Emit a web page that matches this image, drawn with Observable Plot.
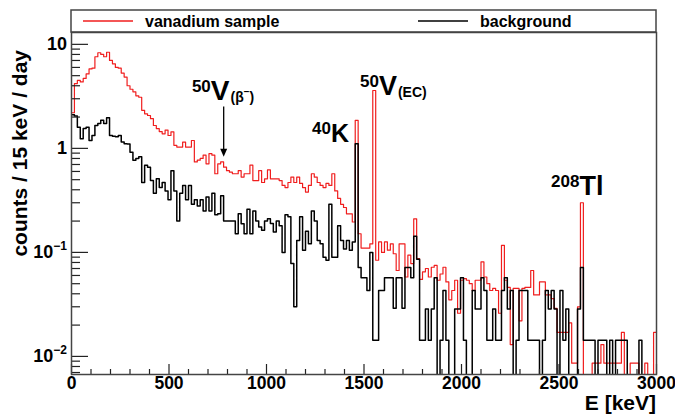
<!DOCTYPE html>
<html><head><meta charset="utf-8">
<script src="https://cdn.jsdelivr.net/npm/d3@7"></script>
<script src="https://cdn.jsdelivr.net/npm/@observablehq/plot@0.6"></script>
<style>
html,body{margin:0;padding:0;background:#fff;}
#chart{width:675px;height:417px;}
svg{font-family:"Liberation Sans",Arial,Helvetica,sans-serif;}
svg text{font-weight:bold;}
</style></head><body><div id="chart"></div>
<script>
// bin width in keV; bins start at 0
const binWidth = 15;
// counts / 15 keV / day, vanadium sample (0 = empty bin)
const vanadium = [
2.2,4.2,4.5,4.35,4.7,5.2,5.8,5.9,7.6,8.3, 8.0,7.6,8.4,7.0,6.5,6.0,5.9,5.3,4.85,4.0,
3.7,3.5,3.2,3.1,2.32,2.15,2.07,1.93,1.66,1.55, 1.45,1.38,1.5,1.33,1.44,1.07,1.03,1.03,1.15,1.03,
1.03,1.19,0.74,0.77,0.80,0.86,0.71,0.89,0.86,0.57, 0.71,0.74,0.66,0.61,0.59,0.57,0.57,0.61,0.53,0.57,
0.57,0.69,0.49,0.49,0.61,0.47,0.51,0.62,0.51,0.51, 0.51,0.49,0.44,0.42,0.47,0.53,0.47,0.53,0.46,0.42,
0.38,0.44,0.57,0.53,0.47,0.44,0.42,0.46,0.44,0.57, 0.39,0.33,0.29,0.27,0.235,0.235,0.196,1.86,0.151,0.11,
0.11,0.11,0.121,3.6,0.084,0.126,0.10,0.126,0.105,0.121, 0.097,0.067,0.121,0.121,0.058,0.094,0.078,0.21,0.087,0.055,
0.065,0.07,0.058,0.072,0.075,0.054,0.062,0.072,0.052,0.035, 0.043,0.054,0.026,0.054,0.056,0.054,0.05,0.043,0.054,0.054,
0.081,0.058,0.05,0.043,0.045,0.043,0.026,0.117,0.054,0.046, 0.013,0.045,0.045,0.022,0.045,0.046,0.046,0.067,0.039,0.039,
0.052,0.052,0.039,0.039,0.036,0.029,0.017,0.017,0.017,0.017, 0.021,0.0086,0.0086,0.03,0.30,0,0,0,0.0086,0.0086,
0.0086,0.013,0.0086,0.0086,0.0086,0.0086,0.0086,0.0086,0.017,0, 0,0.0086,0.0086,0.0086,0,0,0.0086,0,0,0.017
];
// counts / 15 keV / day, background
const background = [
2.1,2.05,1.6,1.24,1.55,1.6,1.19,1.33,1.66,1.73, 1.86,1.73,1.97,1.33,1.31,1.29,1.33,1.15,1.11,1.1,
0.92,0.77,0.80,0.83,0.47,0.69,0.66,0.49,0.37,0.51, 0.42,0.47,0.39,0.32,0.61,0.39,0.20,0.37,0.44,0.32,
0.44,0.29,0.32,0.28,0.32,0.25,0.34,0.25,0.37,0.23, 0.235,0.35,0.20,0.20,0.20,0.20,0.151,0.235,0.189,0.151,
0.26,0.151,0.25,0.20,0.175,0.163,0.20,0.21,0.19,0.157, 0.20,0.18,0.10,0.23,0.22,0.078,0.030,0.13,0.22,0.105,
0.16,0.121,0.25,0.20,0.13,0.121,0.09,0.084,0.29,0.09, 0.09,0.18,0.13,0.108,0.13,0.105,0.126,1.11,0.0715,0.057,
0.057,0.043,0.1,0.0143,0.0143,0.043,0.043,0.057,0.057,0.057, 0.029,0.057,0.057,0.029,0.0715,0.0715,0.057,0.143,0.086,0.0143,
0.0143,0.0286,0.0143,0.0286,0.057,0,0.0143,0.043,0.0143,0, 0,0.0286,0.0286,0.057,0.0143,0,0,0.043,0.0286,0.0286,
0.057,0.043,0.0143,0.0143,0.0286,0.0143,0.0143,0.043,0.057,0.0286, 0.043,0,0.0143,0.043,0.043,0.043,0.0143,0.0143,0.0143,0.0143,
0,0.0143,0.043,0.0286,0.043,0.0286,0,0.043,0.0143,0.0286, 0,0,0,0.0286,0.0715,0.0143,0.0143,0.0143,0.0143,0,
0.0143,0.0143,0.0143,0,0.0143,0,0.0143,0.0143,0.0143,0.0143, 0,0,0,0,0.0143,0,0,0,0,0
];
const seriesNames = ["vanadium sample", "background"];
const xMajorTicks = [0, 500, 1000, 1500, 2000, 2500, 3000];
const yMajorTicks = [0.01, 0.1, 1, 10];
const yTickBase = ["10", "10", "1", "10"];
const yTickExp = ["\u22122", "\u22121", "", ""];
const xTitle = "E [keV]";
const yTitle = "counts / 15 keV / day";
// peak labels: mass number, symbol, suffix, anchor energy (keV), anchor value
const peakMass = ["50", "40", "50", "208"];
const peakSymbol = ["V", "K", "V", "Tl"];
const peakSuffix = ["(\u03B2", "", "(EC)", ""];
const peakEnergy = [620, 1236, 1482, 2462];
const peakValue = [2.9, 1.14, 3.23, 0.353];
// arrow for 50V beta- line
const arrowEnergy = 783;
const arrowFrom = 2.5, arrowTo = 0.82;

const W = 675, H = 417;
const mL = 71, mR = 19, mT = 32, mB = 43;
const plotW = W - mL - mR, plotH = H - mT - mB;
const FLOOR = 1e-4;

function steps(vals) {
  const pts = vals.map((v, i) => ({e: i * binWidth, v: v > 0 ? v : FLOOR}));
  pts.push({e: vals.length * binWidth, v: pts[pts.length - 1].v});
  return pts;
}
const xMinor = d3.range(0, 3001, 100).filter(d => d % 500 !== 0);
const yMinor = [];
for (const dec of [0.001, 0.01, 0.1, 1, 10]) for (let k = 2; k <= 9; k++) {
  const v = k * dec; if (v > 0.0067 && v < 13) yMinor.push(v);
}

const plot = Plot.plot({
  width: W, height: H,
  marginLeft: mL, marginRight: mR, marginTop: mT, marginBottom: mB,
  style: {background: "white", fontFamily: "Liberation Sans, Arial, sans-serif"},
  x: {domain: [0, 3000], label: null},
  y: {type: "log", domain: [0.0067, 13], label: null, axis: null},
  marks: [
    Plot.line(steps(vanadium), {x: "e", y: "v", curve: "step-after", stroke: "#f01e1e", strokeWidth: 1.2, clip: true}),
    Plot.line(steps(background), {x: "e", y: "v", curve: "step-after", stroke: "#000", strokeWidth: 1.5, clip: true}),
    Plot.ruleX(xMinor, {insetTop: plotH - 5, stroke: "#222", strokeWidth: 1.2}),
    Plot.ruleX(xMajorTicks, {insetTop: plotH - 10, stroke: "#222", strokeWidth: 1.2}),
    Plot.ruleY(yMinor, {insetRight: plotW - 9, stroke: "#222", strokeWidth: 1.2}),
    Plot.ruleY(yMajorTicks, {insetRight: plotW - 17, stroke: "#222", strokeWidth: 1.2}),
    Plot.axisX(xMajorTicks, {tickSize: 0, tickPadding: 2, fontSize: 17.5, tickFormat: d => String(d), label: null}),
    Plot.frame({stroke: "#444", strokeWidth: 1.5})
  ]
});
document.getElementById("chart").appendChild(plot);

const sx = plot.scale("x"), sy = plot.scale("y");
const svg = d3.select(plot);
const g = svg.append("g").attr("text-anchor", "start");

// y tick labels with exponents
yMajorTicks.forEach((v, i) => {
  const t = g.append("text").attr("x", 67).attr("y", sy.apply(v) + 6.5)
    .attr("text-anchor", "end").attr("font-size", 18).attr("fill", "#000");
  t.append("tspan").text(yTickBase[i]);
  if (yTickExp[i]) t.append("tspan").attr("font-size", 12).attr("dy", -8).text(yTickExp[i]);
});

// axis titles
g.append("text").attr("x", sx.apply(3000)).attr("y", 410).attr("text-anchor", "end")
  .attr("font-size", 21).text(xTitle);
g.append("text").attr("transform", `translate(27,${mT + 18}) rotate(-90)`).attr("text-anchor", "end")
  .attr("font-size", 21).text(yTitle);

// legend
const legTop = 10, legBot = mT;
g.append("rect").attr("x", mL).attr("y", legTop).attr("width", plotW).attr("height", legBot - legTop)
  .attr("fill", "none").attr("stroke", "#444").attr("stroke-width", 1.5);
const legColors = ["#f01e1e", "#000"];
const legX = [83, 418];
seriesNames.forEach((n, i) => {
  g.append("line").attr("x1", legX[i]).attr("x2", legX[i] + 50).attr("y1", 21).attr("y2", 21)
    .attr("stroke", legColors[i]).attr("stroke-width", 1.5);
  g.append("text").attr("x", legX[i] + 62).attr("y", 26.5).attr("text-anchor", "start")
    .attr("font-size", 16).text(n);
});

// peak labels
const symSize = [28, 25, 27, 27];
peakMass.forEach((m, i) => {
  const t = g.append("text").attr("x", sx.apply(peakEnergy[i])).attr("y", sy.apply(peakValue[i]))
    .attr("text-anchor", "start").attr("fill", "#000");
  t.append("tspan").attr("font-size", 17).attr("dy", -8).text(m);
  t.append("tspan").attr("font-size", symSize[i]).attr("dy", 8).text(peakSymbol[i]);
  if (peakSuffix[i]) {
    t.append("tspan").attr("font-size", 14).attr("dy", 2).attr("dx", 1).text(peakSuffix[i]);
    if (i === 0) {
      t.append("tspan").attr("font-size", 10).attr("dy", -7).text("\u2212");
      t.append("tspan").attr("font-size", 14).attr("dy", 7).text(")");
    }
  }
});

// arrow
const ax = sx.apply(arrowEnergy), ay1 = sy.apply(arrowFrom), ay2 = sy.apply(arrowTo);
g.append("line").attr("x1", ax).attr("x2", ax).attr("y1", ay1).attr("y2", ay2 - 6)
  .attr("stroke", "#000").attr("stroke-width", 1.3);
g.append("path").attr("d", `M${ax - 3.5},${ay2 - 8} L${ax + 3.5},${ay2 - 8} L${ax},${ay2} Z`).attr("fill", "#000");
</script></body></html>
